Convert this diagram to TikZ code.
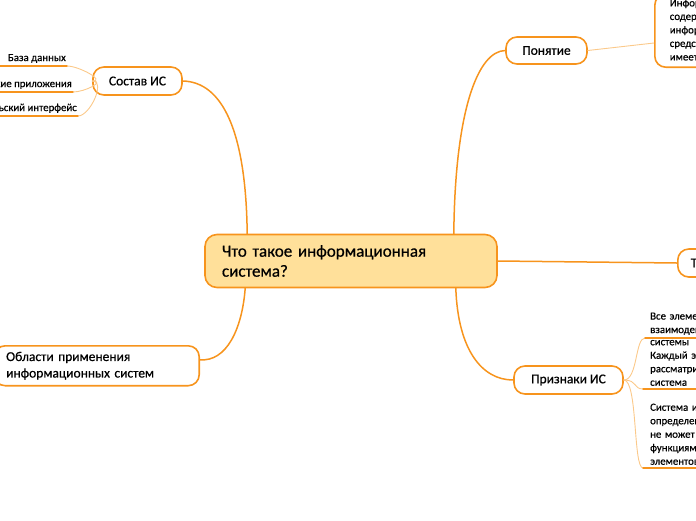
\documentclass[tikz,border=0pt]{standalone}
\usepackage{fontspec}
\setmainfont{Carlito}[FakeBold=0.6]
\definecolor{mmorange}{HTML}{F7941D}
\definecolor{mmfill}{HTML}{FFE09A}
\definecolor{mmlight}{HTML}{FBC98A}
\begin{document}
\begin{tikzpicture}[x=1pt,y=-1pt,line cap=round,line join=round,
  topic/.style={draw=mmorange,line width=1.6pt,fill=white,rounded corners=11pt,inner sep=0pt,font=\fontsize{13.5}{16.5}\selectfont},
  leaf/.style={inner xsep=1pt,inner ysep=3pt,align=left,font=\fontsize{10.8}{13.5}\selectfont},
  branch/.style={draw=mmorange,line width=1.5pt},
  twig/.style={draw=mmlight,line width=0.9pt},
  uline/.style={draw=mmorange,line width=1.4pt}]
  \useasboundingbox (0,0) rectangle (696,520);
  % centre
  \node[topic,fill=mmfill,rounded corners=12pt,minimum width=292pt,minimum height=53pt,
    text width=258pt,align=left,font=\fontsize{17}{20}\selectfont] (center) at (351,261)
    {Что такое информационная\\система?};
  % main topics
  \node[topic,minimum width=89pt,minimum height=28pt] (sostav) at (137.5,81) {Состав ИС};
  \node[topic,minimum width=81pt,minimum height=27pt] (ponyatie) at (546.5,50.5) {Понятие};
  \node[topic,minimum width=109pt,minimum height=28pt] (priznaki) at (568.5,380) {Признаки ИС};
  \node[topic,anchor=north east,inner xsep=12pt,inner ysep=6pt,text width=181pt,align=left] (oblasti) at (200,345)
    {Области применения\\информационных систем};
  \node[topic,anchor=west,inner xsep=13pt,minimum height=28pt] (tipy) at (677,263) {Типы ИС};
  \node[topic,anchor=south west,inner xsep=15pt,inner ysep=5pt,text width=160pt,align=left,
    font=\fontsize{10.8}{13.5}\selectfont] (defn) at (654,68)
    {Информационная система~--\\содержащая базы данных,\\информационные технологии и\\средства обработки, которая\\имеет определённую цель};
  % branches from the centre
  \draw[branch] ([xshift=43pt]center.north west) .. controls (246,130) and (222,82) .. (sostav.east);
  \draw[branch] ([xshift=-44pt]center.north east) .. controls (455,110) and (478,51) .. (ponyatie.west);
  \draw[branch] ([xshift=41pt]center.south west) .. controls (242,330) and (226,362) .. ([yshift=6pt]oblasti.east);
  \draw[branch] ([xshift=-42pt]center.south east) .. controls (458,350) and (482,380) .. (priznaki.west);
  \draw[branch] (center.east) -- (tipy.west);
  \draw[twig] (ponyatie.east) -- ([yshift=25pt]defn.south west);
  % Состав ИС
  \node[leaf,anchor=south east] (bd) at (67,66) {База данных};
  \node[leaf,anchor=south east] (pril) at (73,92) {Клиентские приложения};
  \node[leaf,anchor=south east] (intf) at (78,116) {Пользовательский интерфейс};
  \foreach \leafname in {bd,pril,intf}{
    \draw[twig] (sostav.west) .. controls ([xshift=14pt]sostav.west) and ([xshift=12pt]\leafname.south east) .. (\leafname.south east);
    \draw[uline] (\leafname.south east) -- ++(-90,0);
  }
  % Признаки ИС
  \node[leaf,anchor=south west,inner xsep=5pt,text width=150pt] (pr1) at (645,338)
    {Все элементы системы\\взаимодействуют в рамках};
  \node[leaf,anchor=south west,inner xsep=7pt,text width=150pt] (pr2) at (643,389)
    {системы\\Каждый элемент можно\\рассматривать как отдельная\\система};
  \node[leaf,anchor=south west,inner xsep=7pt,text width=150pt] (pr3) at (643,468)
    {Система имеет\\определенную цель, которая\\не может быть сведена к\\функциям отдельных\\элементов};
  \foreach \leafname in {pr1,pr2,pr3}{
    \draw[twig] (priznaki.east) .. controls ([xshift=14pt]priznaki.east) and ([xshift=-10pt]\leafname.south west) .. (\leafname.south west);
    \draw[uline] (\leafname.south west) -- ++(90,0);
  }
\end{tikzpicture}
\end{document}
